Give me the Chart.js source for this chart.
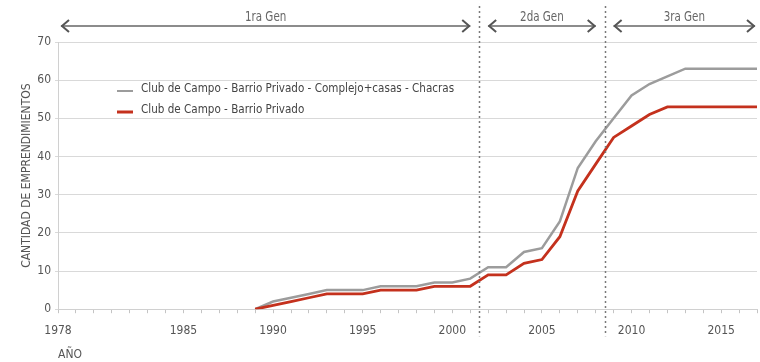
<!DOCTYPE html>
<html>
<head>
<meta charset="utf-8">
<script src="https://cdn.jsdelivr.net/npm/chart.js@4"></script>
<style>
  html, body { margin: 0; padding: 0; background: #fff; }
  canvas { display: block; }
</style>
</head>
<body>
<canvas id="myChart" width="760" height="362"></canvas>
<script>
// Counts per year.
const years = [1989, 1990, 1991, 1992, 1993, 1994, 1995, 1996, 1997, 1998,
  1999, 2000, 2001, 2002, 2003, 2004, 2005, 2006, 2007, 2008,
  2009, 2010, 2011, 2012, 2013, 2014, 2015, 2016, 2017];

const totalLabel = 'Club de Campo - Barrio Privado - Complejo+casas - Chacras';
const totalCounts = [0, 2, 3, 4, 5, 5, 5, 6, 6, 6,
  7, 7, 8, 11, 11, 15, 16, 23, 37, 44,
  50, 56, 59, 61, 63, 63, 63, 63, 63];

const clubLabel = 'Club de Campo - Barrio Privado';
const clubCounts = [0, 1, 2, 3, 4, 4, 4, 5, 5, 5,
  6, 6, 6, 9, 9, 12, 13, 19, 31, 38,
  45, 48, 51, 53, 53, 53, 53, 53, 53];

const xTickLabels = [1978, 1985, 1990, 1995, 2000, 2005, 2010, 2015];
const xMin = 1978;
const xMax = 2017;

// Generations along the top: names and the years that split them.
const genNames = ['1ra Gen', '2da Gen', '3ra Gen'];
const genBreaks = [1978, 2001.5, 2008.5, 2017];

const FONT = "'DejaVu Sans Condensed', 'Liberation Sans Narrow', sans-serif";
Chart.defaults.font.family = FONT;
Chart.defaults.font.size = 12;
Chart.defaults.color = '#555';

function toPoints(vals) {
  return years.map((yr, i) => ({ x: yr, y: vals[i] }));
}

// squeeze text a bit so it looks like the narrow face of the original
function narrowText(c, text, x, y, k) {
  c.save();
  c.translate(x, y);
  c.scale(k, 1);
  c.fillText(text, 0, 0);
  c.restore();
}

// Dotted dividers, arrows, generation names and the legend.
const genPlugin = {
  id: 'genBands',
  afterDraw(chart) {
    const c = chart.ctx;
    const xs = chart.scales.x;
    const area = chart.chartArea;
    c.save();

    c.strokeStyle = '#7a7a7a';
    c.lineWidth = 1.5;
    c.setLineDash([2, 3]);
    genBreaks.slice(1, -1).forEach(v => {
      const x = Math.round(xs.getPixelForValue(v)) + 0.5;
      c.beginPath();
      c.moveTo(x, 6);
      c.lineTo(x, area.bottom + 27);
      c.stroke();
    });
    c.setLineDash([]);

    const y = 26;
    const last = genNames.length - 1;
    genNames.forEach((name, i) => {
      const x0 = i === 0 ? area.left + 3 : xs.getPixelForValue(genBreaks[i] + 0.5);
      const x1 = i === last ? area.right - 2 : xs.getPixelForValue(genBreaks[i + 1] - 0.5);
      c.strokeStyle = '#666';
      c.lineWidth = 1.3;
      c.beginPath();
      c.moveTo(x0, y);
      c.lineTo(x1, y);
      c.stroke();
      c.lineWidth = 2;
      c.strokeStyle = '#555';
      c.beginPath();
      c.moveTo(x0 + 8, y - 6);
      c.lineTo(x0 + 1, y);
      c.lineTo(x0 + 8, y + 6);
      c.moveTo(x1 - 8, y - 6);
      c.lineTo(x1 - 1, y);
      c.lineTo(x1 - 8, y + 6);
      c.stroke();

      c.fillStyle = '#666';
      c.font = '14px ' + FONT;
      c.textAlign = 'center';
      c.textBaseline = 'middle';
      narrowText(c, name, (x0 + x1) / 2, 17, 0.82);
    });

    // legend inside the plot
    const lx = area.left + 59;
    let ly = area.top + 47;
    c.font = '13px ' + FONT;
    c.textAlign = 'left';
    c.textBaseline = 'middle';
    chart.data.datasets.forEach(ds => {
      c.strokeStyle = ds.borderColor;
      c.lineWidth = ds.legendWidth;
      c.beginPath();
      c.moveTo(lx, ly + 2);
      c.lineTo(lx + 16, ly + 2);
      c.stroke();
      c.fillStyle = '#444';
      narrowText(c, ds.label, lx + 24, ly, 0.89);
      ly += 21;
    });
    c.restore();
  }
};

const ctx = document.getElementById('myChart');

new Chart(ctx, {
  type: 'line',
  data: {
    datasets: [{
      label: totalLabel,
      data: toPoints(totalCounts),
      borderColor: '#9c9c9c',
      borderWidth: 2.5,
      legendWidth: 2,
      pointRadius: 0,
      order: 1
    }, {
      label: clubLabel,
      data: toPoints(clubCounts),
      borderColor: '#c4311d',
      borderWidth: 2.8,
      legendWidth: 3,
      pointRadius: 0,
      order: 0
    }]
  },
  options: {
    responsive: false,
    animation: false,
    devicePixelRatio: 1,
    layout: { padding: { left: 20, right: 3, top: 42, bottom: 0 } },
    plugins: {
      legend: { display: false },
      tooltip: { enabled: false }
    },
    scales: {
      x: {
        type: 'linear',
        min: xMin,
        max: xMax,
        afterBuildTicks: s => {
          const t = [];
          for (let v = xMin; v <= xMax; v++) t.push({ value: v });
          s.ticks = t;
        },
        afterFit: s => { s.paddingRight = 0; },
        ticks: {
          autoSkip: false,
          maxRotation: 0,
          padding: 10,
          color: '#555',
          callback: v => xTickLabels.includes(v) ? String(v) : ''
        },
        grid: { drawOnChartArea: false, tickLength: 4, color: '#c4c4c4' },
        border: { color: '#d0d0d0' },
        title: {
          display: true,
          text: 'AÑO',
          align: 'start',
          color: '#555',
          padding: { top: 0, bottom: 0 }
        }
      },
      y: {
        min: 0,
        max: 70,
        afterFit: s => { s.width = 38; },
        ticks: { stepSize: 10, padding: 4, color: '#555' },
        grid: { color: '#d9d9d9', tickLength: 3 },
        border: { color: '#d0d0d0' },
        title: {
          display: true,
          text: 'CANTIDAD DE EMPRENDIMIENTOS',
          color: '#555',
          padding: { top: 0, bottom: 0 }
        }
      }
    }
  },
  plugins: [genPlugin]
});
</script>
</body>
</html>
